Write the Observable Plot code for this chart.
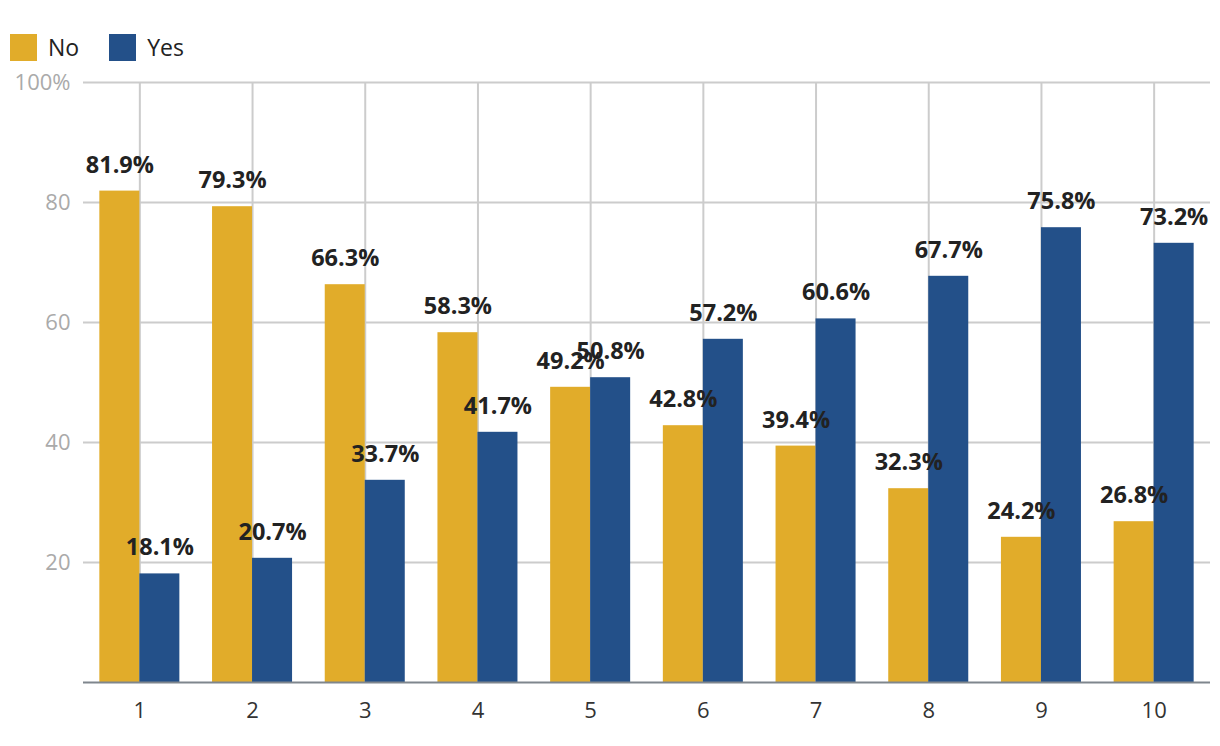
<!DOCTYPE html>
<html>
<head>
<meta charset="utf-8">
<script src="https://cdn.jsdelivr.net/npm/d3@7"></script>
<script src="https://cdn.jsdelivr.net/npm/@observablehq/plot@0.6"></script>
<style>
  body { margin: 0; background: #fff; font-family: "Open Sans", sans-serif; }
  #wrap { position: relative; width: 1220px; height: 746px; }
  #legend { position: absolute; left: 10px; top: 31px; display: flex; align-items: center; font-size: 23px; color: #222; }
  .sw { width: 27px; height: 27px; display: inline-block; margin-right: 11px; }
  .item { display: flex; align-items: center; margin-right: 30px; }
</style>
</head>
<body>
<div id="wrap">
  <div id="legend"></div>
  <div id="chart"></div>
</div>
<script>
const categories = ["1", "2", "3", "4", "5", "6", "7", "8", "9", "10"];
const noValues = [81.9, 79.3, 66.3, 58.3, 49.2, 42.8, 39.4, 32.3, 24.2, 26.8];
const yesValues = [18.1, 20.7, 33.7, 41.7, 50.8, 57.2, 60.6, 67.7, 75.8, 73.2];
const seriesNames = ["No", "Yes"];
const seriesColors = ["#E1AC2A", "#235089"];
const yTicks = [20, 40, 60, 80, 100];

const noData = categories.map((c, i) => ({cat: c, value: noValues[i]}));
const yesData = categories.map((c, i) => ({cat: c, value: yesValues[i]}));

const legend = document.getElementById("legend");
seriesNames.forEach((n, i) => {
  const it = document.createElement("div");
  it.className = "item";
  it.innerHTML = `<span class="sw" style="background:${seriesColors[i]}"></span><span>${n}</span>`;
  legend.appendChild(it);
});

const fmt = d => d.toFixed(1) + "%";

const plot = Plot.plot({
  width: 1220,
  height: 746,
  marginTop: 82,
  marginBottom: 64,
  marginLeft: 83,
  marginRight: 10,
  style: {fontFamily: "Open Sans, sans-serif", background: "#fff"},
  x: {domain: categories, paddingInner: 0.29, paddingOuter: 0.145, round: false, label: null},
  y: {domain: [0, 100], label: null},
  marks: [
    Plot.gridY(yTicks, {stroke: "#cccccc", strokeOpacity: 1, strokeWidth: 2}),
    Plot.gridX(categories, {stroke: "#cccccc", strokeOpacity: 1, strokeWidth: 2}),
    Plot.barY(noData, {x: "cat", y: "value", fill: seriesColors[0], insetRight: 40, insetLeft: 0}),
    Plot.barY(yesData, {x: "cat", y: "value", fill: seriesColors[1], insetLeft: 40, insetRight: 0}),
    Plot.ruleY([0], {stroke: "#7f868d", strokeWidth: 2}),
    Plot.axisY(yTicks, {tickSize: 0, tickPadding: 13, fontSize: 22, fill: "#aaaaaa", label: null, tickFormat: d => d === 100 ? "100%" : String(d)}),
    Plot.axisX({tickSize: 0, tickPadding: 20, fontSize: 22, fill: "#333333", label: null}),
    Plot.text(noData, {x: "cat", y: "value", text: d => fmt(d.value), dx: -20, dy: -26, fontSize: 23.5, fontWeight: "bold", fill: "#222222"}),
    Plot.text(yesData, {x: "cat", y: "value", text: d => fmt(d.value), dx: 20, dy: -26, fontSize: 23.5, fontWeight: "bold", fill: "#222222"})
  ]
});
document.getElementById("chart").appendChild(plot);
</script>
</body>
</html>
